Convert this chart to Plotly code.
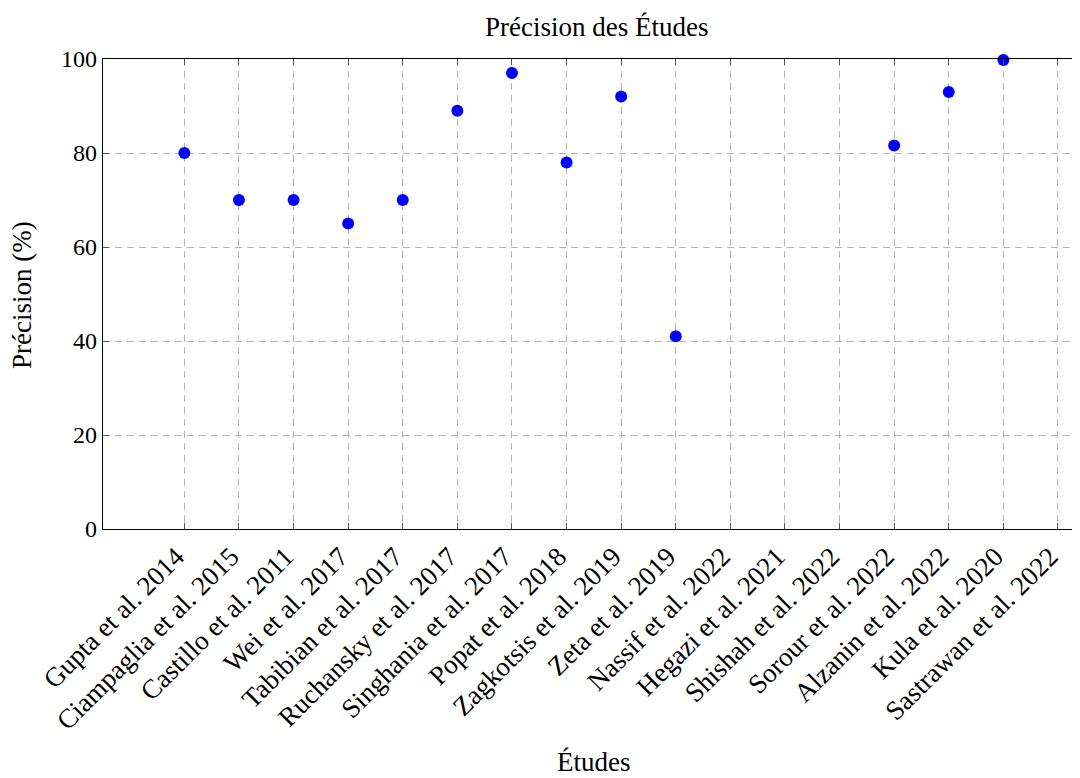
import plotly.graph_objects as go

studies = ["Gupta et al. 2014", "Ciampaglia et al. 2015", "Castillo et al. 2011",
           "Wei et al. 2017", "Tabibian et al. 2017", "Ruchansky et al. 2017",
           "Singhania et al. 2017", "Popat et al. 2018", "Zagkotsis et al. 2019",
           "Zeta et al. 2019", "Nassif et al. 2022", "Hegazi et al. 2021",
           "Shishah et al. 2022", "Sorour et al. 2022", "Alzanin et al. 2022",
           "Kula et al. 2020", "Sastrawan et al. 2022"]
precision = [80, 70, 70, 65, 70, 89, 97, 78, 92, 41,
             None, None, None, 81.6, 93, 99.8, None]
y_ticks = [0, 20, 40, 60, 80, 100]

FONT = "Liberation Serif"
FS_TXT = 27
FS_NUM = 24

# page is offset by the body margin (8px)
OFF = 8
PL, PT, PB = 103, 59, 529          # plot edges in page pixels
ML = PL - OFF
MT = PT - OFF
MB = 778 - (PB - OFF)
PW = 1080 - ML
PH = PB - PT

fig = go.Figure()
fig.add_trace(go.Scatter(
    x=list(range(len(studies))), y=precision, mode="markers",
    marker=dict(color="#0000ff", size=12, line=dict(width=0)),
    showlegend=False, cliponaxis=False,
))

def px_x(page_x):
    return (page_x - PL) / PW

def px_y(page_y):
    return (PB - page_y) / PH

fig.update_layout(
    width=1080, height=778, autosize=False,
    margin=dict(l=ML, r=0, t=MT, b=MB),
    paper_bgcolor="white", plot_bgcolor="white",
    font=dict(family=FONT, size=FS_TXT, color="black"),
    xaxis=dict(
        range=[-1.49, 16.55],
        tickmode="array", tickvals=list(range(len(studies))), ticktext=studies,
        tickangle=-45, ticks="inside", ticklen=6, tickcolor="#555555",
        ticklabelshift=-8, ticklabelstandoff=0,
        showline=True, linecolor="black", linewidth=1.2, mirror="allticks",
        showgrid=True, gridcolor="#b4b4b4", gridwidth=1, griddash="7px,5px",
        zeroline=False, tickfont=dict(family=FONT, size=FS_TXT),
    ),
    yaxis=dict(
        range=[0, 100], tickmode="array", tickvals=y_ticks,
        ticktext=[str(v) for v in y_ticks],
        ticks="inside", ticklen=6, tickcolor="#555555",
        showline=True, linecolor="black", linewidth=1.2, mirror=False,
        showgrid=True, gridcolor="#b4b4b4", gridwidth=1, griddash="7px,5px",
        zeroline=False, tickfont=dict(family=FONT, size=FS_NUM),
    ),
    annotations=[
        dict(text="Précision des Études", xref="paper", yref="paper",
             x=px_x(596), y=px_y(27), xanchor="center", yanchor="middle",
             showarrow=False, font=dict(family=FONT, size=FS_TXT)),
        dict(text="Précision (%)", xref="paper", yref="paper",
             x=px_x(22), y=px_y(295), xanchor="center", yanchor="middle",
             textangle=-90, showarrow=False, font=dict(family=FONT, size=FS_TXT)),
        dict(text="Études", xref="paper", yref="paper",
             x=px_x(594), y=px_y(762), xanchor="center", yanchor="middle",
             showarrow=False, font=dict(family=FONT, size=FS_TXT)),
    ],
)

fig.write_html("out.html")
